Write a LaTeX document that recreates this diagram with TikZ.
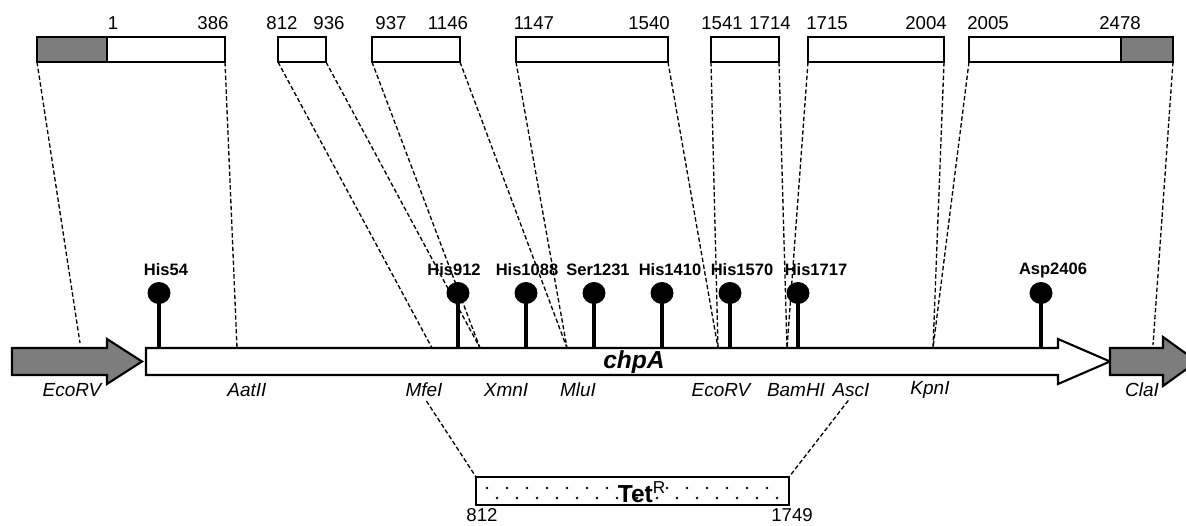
\documentclass[tikz,border=0pt]{standalone}
\usepackage{fontspec}
\setmainfont{Liberation Sans}
\usetikzlibrary{calc}

\definecolor{seggray}{RGB}{125,125,125}

\tikzset{
	cut/.style={dash pattern=on 2.5pt off 1.4pt, line width=0.75pt},
	segment/.style={line width=1.3pt},
	gene/.style={line width=1.2pt, line join=miter},
	stem/.style={line width=1.8pt},
	num/.style={font=\fontsize{10.6}{12}\selectfont, inner sep=0pt},
	site/.style={font=\fontsize{10.8}{12}\selectfont\itshape, inner sep=0pt},
	res/.style={font=\fontsize{9.4}{11}\selectfont\bfseries, inner sep=0pt},
}

\begin{document}
\begin{tikzpicture}[x=0.02cm, y=0.02cm]

	\useasboundingbox (0,0) rectangle (1186,525);

	% ---- parameters

	\def\segtop{488}
	\def\segbot{463}
	\def\gtop{177}
	\def\gbot{150}
	\def\gmid{163.5}
	\def\htop{186}
	\def\hbot{141}

	% ---- segment corners

	\foreach \i/\l/\r in {1/37/225, 2/278/326, 3/372/460, 4/516/668, 5/711/779, 6/808/944, 7/969/1173} {
		\coordinate (L\i) at (\l,\segbot);
		\coordinate (R\i) at (\r,\segbot);
	}

	% ---- sites on the gene

	\coordinate (EcoRVa) at (80,182);
	\coordinate (AatII) at (237,\gtop);
	\coordinate (MfeI) at (432,\gtop);
	\coordinate (XmnI) at (480,\gtop);
	\coordinate (MluI) at (567,\gtop);
	\coordinate (EcoRVb) at (718,\gtop);
	\coordinate (BamHI) at (787,\gtop);
	\coordinate (KpnI) at (933,\gtop);
	\coordinate (ClaI) at (1153,180);

	% ---- segments

	\fill[seggray] (L1) rectangle (107,\segtop);
	\fill[seggray] (1121,\segbot) rectangle (1173,\segtop);

	\foreach \i/\l/\r in {1/37/225, 2/278/326, 3/372/460, 4/516/668, 5/711/779, 6/808/944, 7/969/1173} {
		\draw[segment] (L\i) rectangle (\r,\segtop);
	}

	\draw[segment] (107,\segbot) -- (107,\segtop);
	\draw[segment] (1121,\segbot) -- (1121,\segtop);

	% ---- segment numbers

	\foreach \x/\n/\t in {113/n1/1, 213/n386/386, 282/n812/812, 329/n936/936, 391/n937/937, 448/n1146/1146,
		534/n1147/1147, 649/n1540/1540, 722/n1541/1541, 770/n1714/1714, 827/n1715/1715, 926/n2004/2004,
		988/n2005/2005, 1120/n2478/2478} {
		\node[num] (\n) at (\x,502) {\t};
	}

	% ---- gene arrows

	\filldraw[gene, fill=seggray] (12,\gtop) -- (107,\gtop) -- (107,\htop) -- (142,\gmid)
		-- (107,\hbot) -- (107,\gbot) -- (12,\gbot) -- cycle;

	\filldraw[gene, fill=white] (146,\gtop) -- (1058,\gtop) -- (1058,\htop) -- (1110,\gmid)
		-- (1058,\hbot) -- (1058,\gbot) -- (146,\gbot) -- cycle;

	\filldraw[gene, fill=seggray] (1110,\gtop) -- (1163,\gtop) -- (1163,188) -- (1197,\gmid)
		-- (1163,139) -- (1163,\gbot) -- (1110,\gbot) -- cycle;

	\node[font=\fontsize{14}{16}\selectfont\bfseries\itshape, inner sep=0pt] (chpA) at (634,163) {chpA};

	% ---- residues

	\foreach \x/\lx/\t in {159/166/His54, 458/454/His912, 526/527/His1088, 594/598/Ser1231,
		662/670/His1410, 730/742/His1570, 798/816/His1717, 1041/1053/Asp2406} {
		\draw[stem] (\x,\gtop) -- (\x,232);
		\fill (\x,232) ellipse (11.5 and 11);
		\node[res] (\t) at (\lx,255) {\t};
	}

	% ---- site labels

	\foreach \x/\n/\t in {72/eco1/EcoRV, 247/aat/AatII, 424/mfe/MfeI, 506/xmn/XmnI, 578/mlu/MluI,
		721/eco2/EcoRV, 796/bam/BamHI, 851/asc/AscI, 930/kpn/KpnI, 1142/cla/ClaI} {
		\node[site] (\n) at (\x,135) {\t};
	}

	% ---- TetR cassette

	\coordinate (T1) at (476,48);
	\coordinate (T2) at (789,48);

	\draw[segment] (476,20) rectangle (T2);

	\foreach \k in {0,...,14} {
		\fill (487+20*\k,37) circle (1.4);
		\fill (497+20*\k,27) circle (1.4);
	}

	\node[font=\fontsize{14}{16}\selectfont\bfseries, inner sep=0pt] (tet) at (642,33) {Tet\textsuperscript{\mdseries R}};

	\node[num] (b812) at (482,10) {812};
	\node[num] (b1749) at (792,10) {1749};

	% ---- dashed mapping lines

	\draw[cut] (L1) -- (EcoRVa);
	\draw[cut] (R1) -- (AatII);
	\draw[cut] (L2) -- (MfeI);
	\draw[cut] (R2) -- (XmnI);
	\draw[cut] (L3) -- (XmnI);
	\draw[cut] (R3) -- (MluI);
	\draw[cut] (L4) -- (MluI);
	\draw[cut] (R4) -- (EcoRVb);
	\draw[cut] (L5) -- (EcoRVb);
	\draw[cut] (R5) -- (BamHI);
	\draw[cut] (L6) -- (BamHI);
	\draw[cut] (R6) -- (KpnI);
	\draw[cut] (L7) -- (KpnI);
	\draw[cut] (R7) -- (ClaI);

	\draw[cut, shorten <=2.5pt] (mfe.south) -- (T1);
	\draw[cut, shorten <=2.5pt] (asc.south) -- (T2);

\end{tikzpicture}
\end{document}
